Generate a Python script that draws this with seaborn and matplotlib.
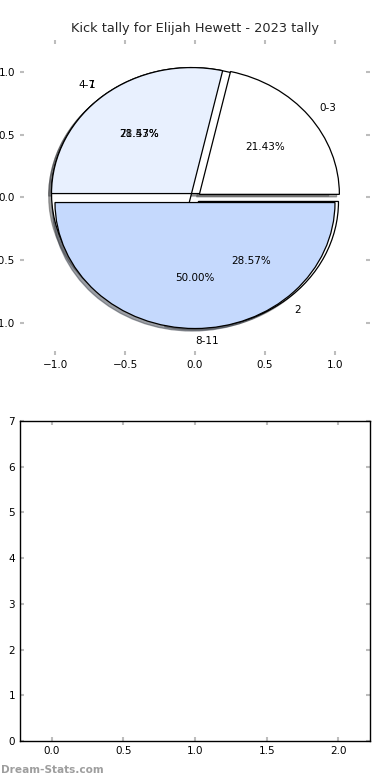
import matplotlib
matplotlib.use('Agg')
import matplotlib.pyplot as plt
import seaborn as sns

# chart data
title = 'Kick tally for Elijah Hewett - 2023 tally'

range_labels = ['0-3', '4-7', '8-11']
range_counts = [3, 4, 7]
range_colors = ['#FFFFFF', '#E8F0FE', '#C5D9FD']

quarter_labels = ['1', '2']
quarter_counts = [10, 4]
quarter_colors = ['#FFFFFF', '#FFFFFF']

pie_ticks = [-1.0, -0.5, 0.0, 0.5, 1.0]
empty_xticks = [0.0, 0.5, 1.0, 1.5, 2.0]
empty_yticks = [0, 1, 2, 3, 4, 5, 6, 7]

sns.set_style('white')
plt.rcParams['font.family'] = ['DejaVu Sans']

fig = plt.figure(figsize=(3.9, 7.8), dpi=100)
ax1 = fig.add_axes([0.0513, 0.5449, 0.8974, 0.4038])
ax2 = fig.add_axes([0.0513, 0.05, 0.8974, 0.4103])

wedge_style = dict(edgecolor='black', linewidth=0.9)
text_style = dict(fontsize=7.5, color='black')
shadow_style = dict(ox=-0.0144, oy=-0.0144)

# second tally drawn first, the range tally sits on top of it
ax1.pie(quarter_counts, labels=quarter_labels, colors=quarter_colors,
        autopct='%.2f%%', explode=[0.04] * len(quarter_counts),
        shadow=shadow_style, wedgeprops=wedge_style, textprops=text_style)
_, labels, _ = ax1.pie(range_counts, labels=range_labels, colors=range_colors,
                       autopct='%.2f%%', explode=[0.04] * len(range_counts),
                       shadow=shadow_style, wedgeprops=wedge_style,
                       textprops=text_style)
labels[2].set_ha('left')

ax1.set_aspect('auto')
ax1.set_xlim(-1.25, 1.25)
ax1.set_ylim(-1.25, 1.25)
ax1.set_xticks(pie_ticks)
ax1.set_yticks(pie_ticks)
ax1.set_frame_on(False)
ax1.set_title(title, fontsize=9.3)

ax2.set_xlim(-0.22, 2.22)
ax2.set_ylim(0, 7)
ax2.set_xticks(empty_xticks)
ax2.set_yticks(empty_yticks)
for side in ax2.spines.values():
    side.set_color('black')
    side.set_linewidth(1.0)

for ax in (ax1, ax2):
    ax.tick_params(direction='in', color='#bdbdbd', length=3, width=1.5,
                   top=True, right=True, bottom=True, left=True,
                   labelsize=7.5, labelcolor='black')

fig.text(0.002, 0.0125, 'Dream-Stats.com', color='#9e9e9e', fontsize=7.6,
         fontweight='bold', va='center', ha='left')

fig.savefig('out.png', dpi=100)
